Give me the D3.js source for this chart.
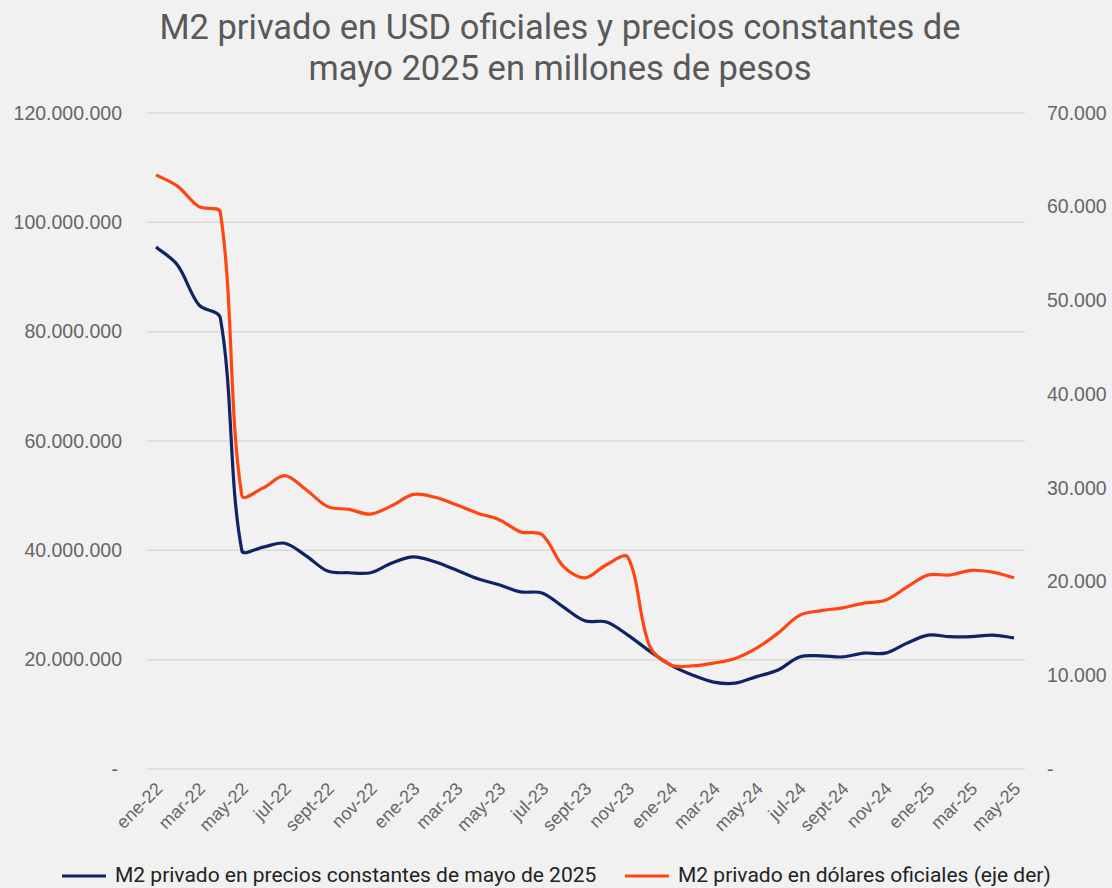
<!doctype html>
<html>
<head>
<meta charset="utf-8">
<style>
    body { margin: 0; background: #f1f1f1; }
    svg { display: block; font-family: Roboto, "Noto Sans", sans-serif; }
    .title { font-size: 34.5px; fill: #595959; text-anchor: middle; }
    .tick text { fill: #666; }
    .grid line { stroke: #d9d9d9; stroke-width: 1.5; }
    .legend text { font-size: 21px; fill: #222; }
</style>
<script src="https://d3js.org/d3.v7.min.js"></script>
</head>
<body>
<script>
    // months ene-22 .. may-25
    const monthNames = ['ene', 'feb', 'mar', 'abr', 'may', 'jun', 'jul', 'ago', 'sept', 'oct', 'nov', 'dic'];
    const months = d3.range(41).map(i => monthNames[i % 12] + '-' + (22 + Math.floor(i / 12)));

    // M2 privado en precios constantes (millones de pesos) - eje izq
    const m2Pesos = [
        95.5, 92.2, 84.9, 82.5, 40.0, 40.6, 41.3, 39.0, 36.2, 35.9, 35.9, 37.7,
        38.8, 37.9, 36.4, 34.8, 33.7, 32.4, 32.2, 29.6, 27.1, 26.9, 24.5, 21.6,
        19.0, 17.2, 15.9, 15.7, 16.9, 18.1, 20.5, 20.7, 20.5, 21.2, 21.2, 23.0,
        24.5, 24.2, 24.2, 24.5, 24.0
    ].map(v => v * 1e6);

    // M2 privado en dolares oficiales - eje der
    const m2Usd = [
        63.4, 62.2, 60.0, 59.4, 29.2, 30.0, 31.3, 29.8, 28.0, 27.7, 27.2, 28.1,
        29.3, 29.0, 28.2, 27.3, 26.6, 25.3, 25.0, 21.6, 20.4, 21.8, 22.6, 13.2,
        11.1, 11.0, 11.3, 11.8, 12.9, 14.5, 16.4, 16.9, 17.2, 17.7, 18.0, 19.4,
        20.7, 20.7, 21.2, 21.0, 20.4
    ].map(v => v * 1000);

    const leftTicks = [0, 20e6, 40e6, 60e6, 80e6, 100e6, 120e6];
    const rightTicks = [0, 10000, 20000, 30000, 40000, 50000, 60000, 70000];

    const seriesNames = ['M2 privado en precios constantes de mayo de 2025', 'M2 privado en dólares oficiales (eje der)'];
    const colors = ['#0f2466', '#ff4612'];

    const W = 1112, H = 888;
    const svg = d3.select('body').append('svg').attr('width', W).attr('height', H);

    const x = d3.scalePoint().domain(months).range([156, 1014]);
    const yL = d3.scaleLinear().domain([0, 120e6]).range([769, 113]);
    const yR = d3.scaleLinear().domain([0, 70000]).range([769, 113]);

    const fmt = v => v === 0 ? '-' : d3.format(',')(v).replace(/,/g, '.');

    // title
    svg.append('text').attr('class', 'title').attr('x', 560).attr('y', 39)
        .text('M2 privado en USD oficiales y precios constantes de');
    svg.append('text').attr('class', 'title').attr('x', 560).attr('y', 80)
        .text('mayo 2025 en millones de pesos');

    // gridlines
    svg.append('g').attr('class', 'grid')
        .selectAll('line').data(leftTicks).enter().append('line')
        .attr('x1', 147).attr('x2', 1025)
        .attr('y1', d => yL(d)).attr('y2', d => yL(d));

    // left axis
    const axL = svg.append('g').attr('transform', 'translate(122,0)')
        .call(d3.axisLeft(yL).tickValues(leftTicks).tickFormat(fmt).tickSize(0).tickPadding(0));
    axL.select('.domain').remove();
    axL.selectAll('text').style('font-size', '19.5px').attr('dx', d => d === 0 ? -4 : 0);

    // right axis
    const axR = svg.append('g').attr('transform', 'translate(1047,0)')
        .call(d3.axisRight(yR).tickValues(rightTicks).tickFormat(fmt).tickSize(0).tickPadding(0));
    axR.select('.domain').remove();
    axR.selectAll('text').style('font-size', '19.5px');

    // x axis
    const axX = svg.append('g').attr('transform', 'translate(0,776)')
        .call(d3.axisBottom(x).tickValues(months.filter((d, i) => i % 2 === 0)).tickSize(0).tickPadding(0));
    axX.select('.domain').remove();
    axX.selectAll('text')
        .style('font-size', '18px')
        .style('text-anchor', 'end')
        .attr('dy', '0')
        .attr('transform', 'translate(7,14) rotate(-45)');

    // excel-like smoothing: tangents scaled by neighbouring segment lengths (no big overshoot)
    function smoothPath(pts, t = 1 / 3) {
        const p = d3.path();
        p.moveTo(pts[0][0], pts[0][1]);
        const dist = (a, b) => Math.hypot(b[0] - a[0], b[1] - a[1]);
        const ctrl = pts.map((pt, i) => {
            const prev = pts[Math.max(i - 1, 0)], next = pts[Math.min(i + 1, pts.length - 1)];
            const d01 = dist(prev, pt), d12 = dist(pt, next), s = d01 + d12 || 1;
            const dx = next[0] - prev[0], dy = next[1] - prev[1];
            return {
                inX: pt[0] - t * d01 / s * dx, inY: pt[1] - t * d01 / s * dy,
                outX: pt[0] + t * d12 / s * dx, outY: pt[1] + t * d12 / s * dy
            };
        });
        for (let i = 1; i < pts.length; i++) {
            p.bezierCurveTo(ctrl[i - 1].outX, ctrl[i - 1].outY, ctrl[i].inX, ctrl[i].inY, pts[i][0], pts[i][1]);
        }
        return p.toString();
    }

    const ptsL = m2Pesos.map((v, i) => [x(months[i]), yL(v)]);
    const ptsR = m2Usd.map((v, i) => [x(months[i]), yR(v)]);

    svg.append('path').attr('d', smoothPath(ptsL))
        .attr('fill', 'none').attr('stroke', colors[0]).attr('stroke-width', 3.2).attr('stroke-linejoin', 'round');
    svg.append('path').attr('d', smoothPath(ptsR))
        .attr('fill', 'none').attr('stroke', colors[1]).attr('stroke-width', 3.2).attr('stroke-linejoin', 'round');

    // legend
    const legend = svg.append('g').attr('class', 'legend');
    const legendPos = [62, 625];
    seriesNames.forEach((name, i) => {
        legend.append('line').attr('x1', legendPos[i]).attr('x2', legendPos[i] + 44)
            .attr('y1', 876).attr('y2', 876).attr('stroke', colors[i]).attr('stroke-width', 3.2);
        legend.append('text').attr('x', legendPos[i] + 53).attr('y', 882).text(name);
    });
</script>
</body>
</html>
